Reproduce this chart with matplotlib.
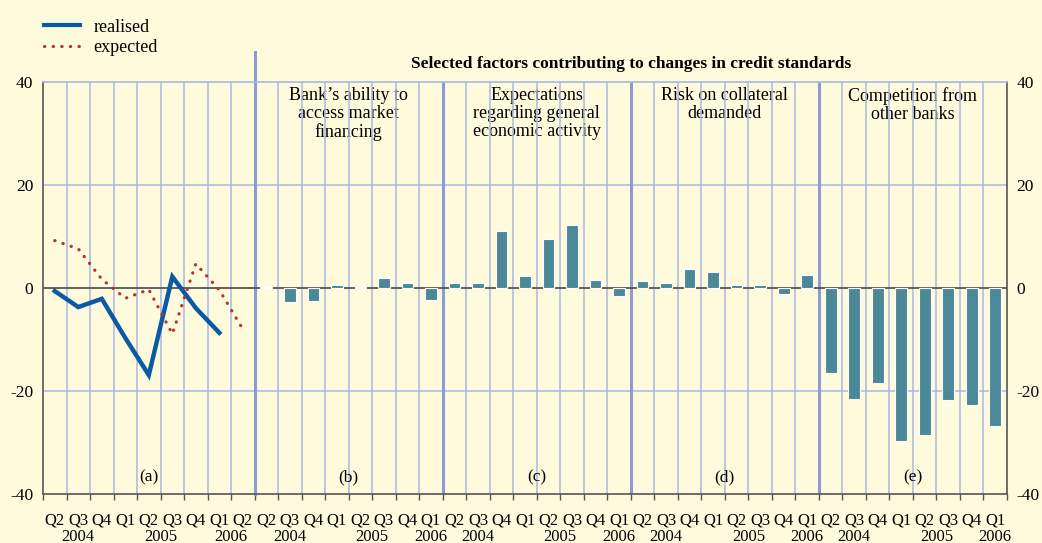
import matplotlib.pyplot as plt
import numpy as np
from matplotlib.lines import Line2D

plt.rcParams['font.family'] = ['Liberation Serif', 'DejaVu Serif']
plt.rcParams['axes.unicode_minus'] = False

# Panel (a): overall credit standards, realised vs expected
quarters_a = ['Q2', 'Q3', 'Q4', 'Q1', 'Q2', 'Q3', 'Q4', 'Q1', 'Q2']
years_a = ['2004', '2005', '2006']
realised = [-0.6, -3.7, -2.1, -9.7, -16.9, 2.2, -3.9, -8.7, np.nan]
expected = [9.2, 7.6, 1.7, -2.0, -0.3, -8.9, 4.7, -0.4, -8.0]

# Panels (b)-(e): contributing factors, Q2 2004 - Q1 2006
quarters_f = ['Q2', 'Q3', 'Q4', 'Q1', 'Q2', 'Q3', 'Q4', 'Q1']
years_f = ['2004', '2005', '2006']
market_financing = [0.2, -2.8, -2.6, 0.6, 0.1, 2.0, 0.9, -2.3]
economic_activity = [1.0, 0.9, 11.1, 2.3, 9.5, 12.2, 1.5, -1.5]
collateral_risk = [1.4, 1.0, 3.6, 3.1, 0.6, 0.6, -1.2, 2.5]
competition = [-16.6, -21.6, -18.5, -29.7, -28.5, -21.7, -22.8, -26.8]

factor_names = ["Bank\u2019s ability to\naccess market\nfinancing",
                "Expectations\nregarding general\neconomic activity",
                "Risk on collateral\ndemanded",
                "Competition from\nother banks"]
factor_values = [market_financing, economic_activity, collateral_risk, competition]
panel_tags = ['(a)', '(b)', '(c)', '(d)', '(e)']

bg = '#fefbdd'
grid_col = '#aab6e4'
sep_col = '#8c9ad6'
bar_col = '#4b8898'
dark = '#555555'

fig = plt.figure(figsize=(10.42, 5.43), dpi=100, facecolor=bg)
ax = fig.add_axes([43 / 1042, 49 / 543, 964 / 1042, 412 / 543], facecolor=bg)

na = len(quarters_a)
nf = len(quarters_f)
n_total = na + nf * len(factor_values)

# line panel
xa = np.arange(na)
ax.plot(xa, realised, color='#0b5aa6', lw=3.2, zorder=5, solid_joinstyle='miter')
ax.plot(xa, expected, color='#b03535', lw=2.3, linestyle=(0, (0.1, 2.6)),
        dash_capstyle='round', zorder=5)

# bar panels
for k, vals in enumerate(factor_values):
    xb = na + k * nf + np.arange(nf)
    ax.bar(xb, vals, width=0.5, color=bar_col, edgecolor='white', lw=0.8, zorder=4)

ax.set_xlim(-0.5, n_total - 0.5)
ax.set_ylim(-40, 40)

# grid lines
bounds = np.arange(n_total + 1) - 0.5
for b in bounds[1:-1]:
    ax.axvline(b, color=grid_col, lw=1.1, zorder=1)
seps = [na - 0.5 + k * nf for k in range(len(factor_values))]
for i, s in enumerate(seps):
    if i == 0:
        ax.axvline(s, ymin=0, ymax=1.073, color=sep_col, lw=2.2, zorder=2, clip_on=False)
    else:
        ax.axvline(s, color=sep_col, lw=2.2, zorder=2)
for yv in [20, -20]:
    ax.axhline(yv, color=grid_col, lw=1.1, zorder=1)
ax.axhline(0, color=dark, lw=1.3, zorder=3)

# spines
for side in ['left', 'right', 'bottom']:
    ax.spines[side].set_color(dark)
    ax.spines[side].set_linewidth(1.2)
ax.spines['top'].set_color(grid_col)
ax.spines['top'].set_linewidth(1.2)

# y ticks both sides
ax.set_yticks([40, 20, 0, -20, -40])
ax.tick_params(axis='y', length=0, labelsize=12.5, pad=7, labelright=True, right=False)

# x ticks: quarter labels at centres, tick marks at boundaries
quarters = quarters_a + quarters_f * len(factor_values)
ax.set_xticks(np.arange(n_total))
ax.set_xticklabels(quarters)
ax.set_xticks(bounds, minor=True)
ax.tick_params(axis='x', which='major', length=0, labelsize=12, pad=13)
ax.tick_params(axis='x', which='minor', length=4, width=1, color=dark, direction='out')

tr = ax.get_xaxis_transform()


def year_spans(qs):
    spans = []
    start = 0
    for i in range(1, len(qs) + 1):
        if i == len(qs) or qs[i] == 'Q1':
            spans.append((start, i - 1))
            start = i
    return spans


offset = 0
for qs, yrs in [(quarters_a, years_a)] + [(quarters_f, years_f)] * len(factor_values):
    for (s, e), yr in zip(year_spans(qs), yrs):
        ax.text(offset + (s + e) / 2, -0.104, yr, transform=tr, ha='center', va='center',
                fontsize=12)
    offset += len(qs)

# panel labels
centres = [(na - 1) / 2] + [na + k * nf + (nf - 1) / 2 for k in range(len(factor_values))]
for c, tag in zip(centres, panel_tags):
    ax.text(c, -36.7, tag, ha='center', va='center', fontsize=12.5, zorder=6)
for k, name in enumerate(factor_names):
    ax.text(centres[k + 1], 39.0, name, ha='center', va='top', fontsize=13,
            linespacing=1.08, zorder=0.5)

ax.text((seps[0] + n_total - 0.5) / 2, 1.043, 'Selected factors contributing to changes in credit standards',
        transform=tr, ha='center', va='center', fontsize=12.5, fontweight='bold')

handles = [Line2D([], [], color='#0b5aa6', lw=3),
           Line2D([], [], color='#b03535', lw=2.3, linestyle=(0, (0.1, 2.6)), dash_capstyle='round')]
fig.legend(handles, ['realised', 'expected'], loc='upper left', bbox_to_anchor=(31 / 1042, 1 - 6 / 543),
           frameon=False, fontsize=13, handlelength=2.0, handletextpad=0.75, labelspacing=0.2,
           borderaxespad=0.3)

fig.savefig('out.png', dpi=100, facecolor=bg)
